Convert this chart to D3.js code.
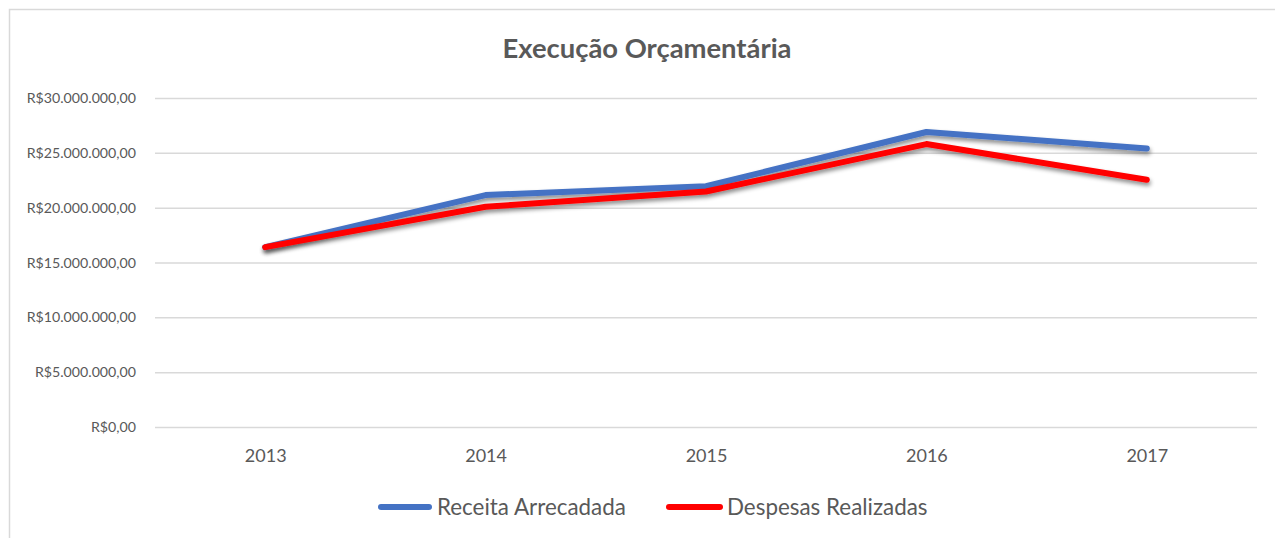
<!DOCTYPE html>
<html>
<head>
<meta charset="utf-8">
<script src="https://cdn.jsdelivr.net/npm/d3@7"></script>
<style>
  html, body { margin: 0; padding: 0; background: #fff; }
  svg { display: block; font-family: Lato, "Open Sans", sans-serif; }
</style>
</head>
<body>
<svg id="chart" width="1275" height="538"></svg>
<script>
const years = ["2013", "2014", "2015", "2016", "2017"];
const receita = [16400000, 21150000, 21950000, 26900000, 25400000];
const despesas = [16400000, 20080000, 21470000, 25800000, 22550000];
const yTicks = [0, 5000000, 10000000, 15000000, 20000000, 25000000, 30000000];
const seriesNames = ["Receita Arrecadada", "Despesas Realizadas"];
const seriesColors = ["#4472C4", "#FF0000"];

const svg = d3.select("#chart");
const W = 1275, H = 538;
const plot = { left: 155, right: 1257, top: 98, bottom: 427 };

// frame
svg.append("path")
  .attr("d", `M9.5,${H + 5} L9.5,9.5 L${W + 5},9.5`)
  .attr("fill", "none").attr("stroke", "#d9d9d9").attr("stroke-width", 1.5);

const defs = svg.append("defs");
const f = defs.append("filter").attr("id", "shadow")
  .attr("x", "-5%").attr("y", "-50%").attr("width", "110%").attr("height", "200%");
f.append("feDropShadow").attr("dx", 1).attr("dy", 3).attr("stdDeviation", 2)
  .attr("flood-color", "#000").attr("flood-opacity", 0.45);

const x = d3.scalePoint().domain(years).range([plot.left, plot.right]).padding(0.5);
const y = d3.scaleLinear().domain([0, 30000000]).range([plot.bottom, plot.top]);

const locale = d3.formatLocale({ decimal: ",", thousands: ".", grouping: [3], currency: ["R$", ""] });
const fmt = locale.format("$,.2f");

// gridlines
const yAxis = d3.axisLeft(y).tickValues(yTicks).tickFormat(fmt)
  .tickSize(-(plot.right - plot.left)).tickPadding(19);
const gy = svg.append("g").attr("transform", `translate(${plot.left},0)`).call(yAxis);
gy.select(".domain").remove();
gy.selectAll(".tick line").attr("stroke", "#d9d9d9").attr("stroke-width", 1.5);
gy.selectAll(".tick text").attr("fill", "#595959").style("font-size", "14.2px")
  .style("font-family", "Lato, sans-serif");

const xAxis = d3.axisBottom(x).tickSize(0).tickPadding(22);
const gx = svg.append("g").attr("transform", `translate(0,${plot.bottom})`).call(xAxis);
gx.select(".domain").remove();
gx.selectAll(".tick text").attr("fill", "#595959").style("font-size", "18px")
  .style("font-family", "Lato, sans-serif");

// title
svg.append("text").attr("x", 647).attr("y", 58).attr("text-anchor", "middle")
  .attr("fill", "#595959").style("font-size", "27.4px").style("font-weight", "bold")
  .text("Execução Orçamentária");

// lines
const line = d3.line().x((d, i) => x(years[i])).y(d => y(d));
[receita, despesas].forEach((vals, k) => {
  svg.append("path").datum(vals)
    .attr("d", line)
    .attr("fill", "none")
    .attr("stroke", seriesColors[k])
    .attr("stroke-width", 6)
    .attr("stroke-linecap", "round")
    .attr("stroke-linejoin", "round")
    .attr("filter", "url(#shadow)");
});

// legend
const legendItems = [
  { x1: 381, x2: 429, tx: 437 },
  { x1: 669, x2: 720, tx: 727 }
];
legendItems.forEach((it, k) => {
  const g = svg.append("g");
  g.append("line").attr("x1", it.x1).attr("x2", it.x2).attr("y1", 507).attr("y2", 507)
    .attr("stroke", seriesColors[k]).attr("stroke-width", 6).attr("stroke-linecap", "round");
  g.append("text").attr("x", it.tx).attr("y", 515).attr("fill", "#595959")
    .style("font-size", "22.4px").text(seriesNames[k]);
});
</script>
</body>
</html>
